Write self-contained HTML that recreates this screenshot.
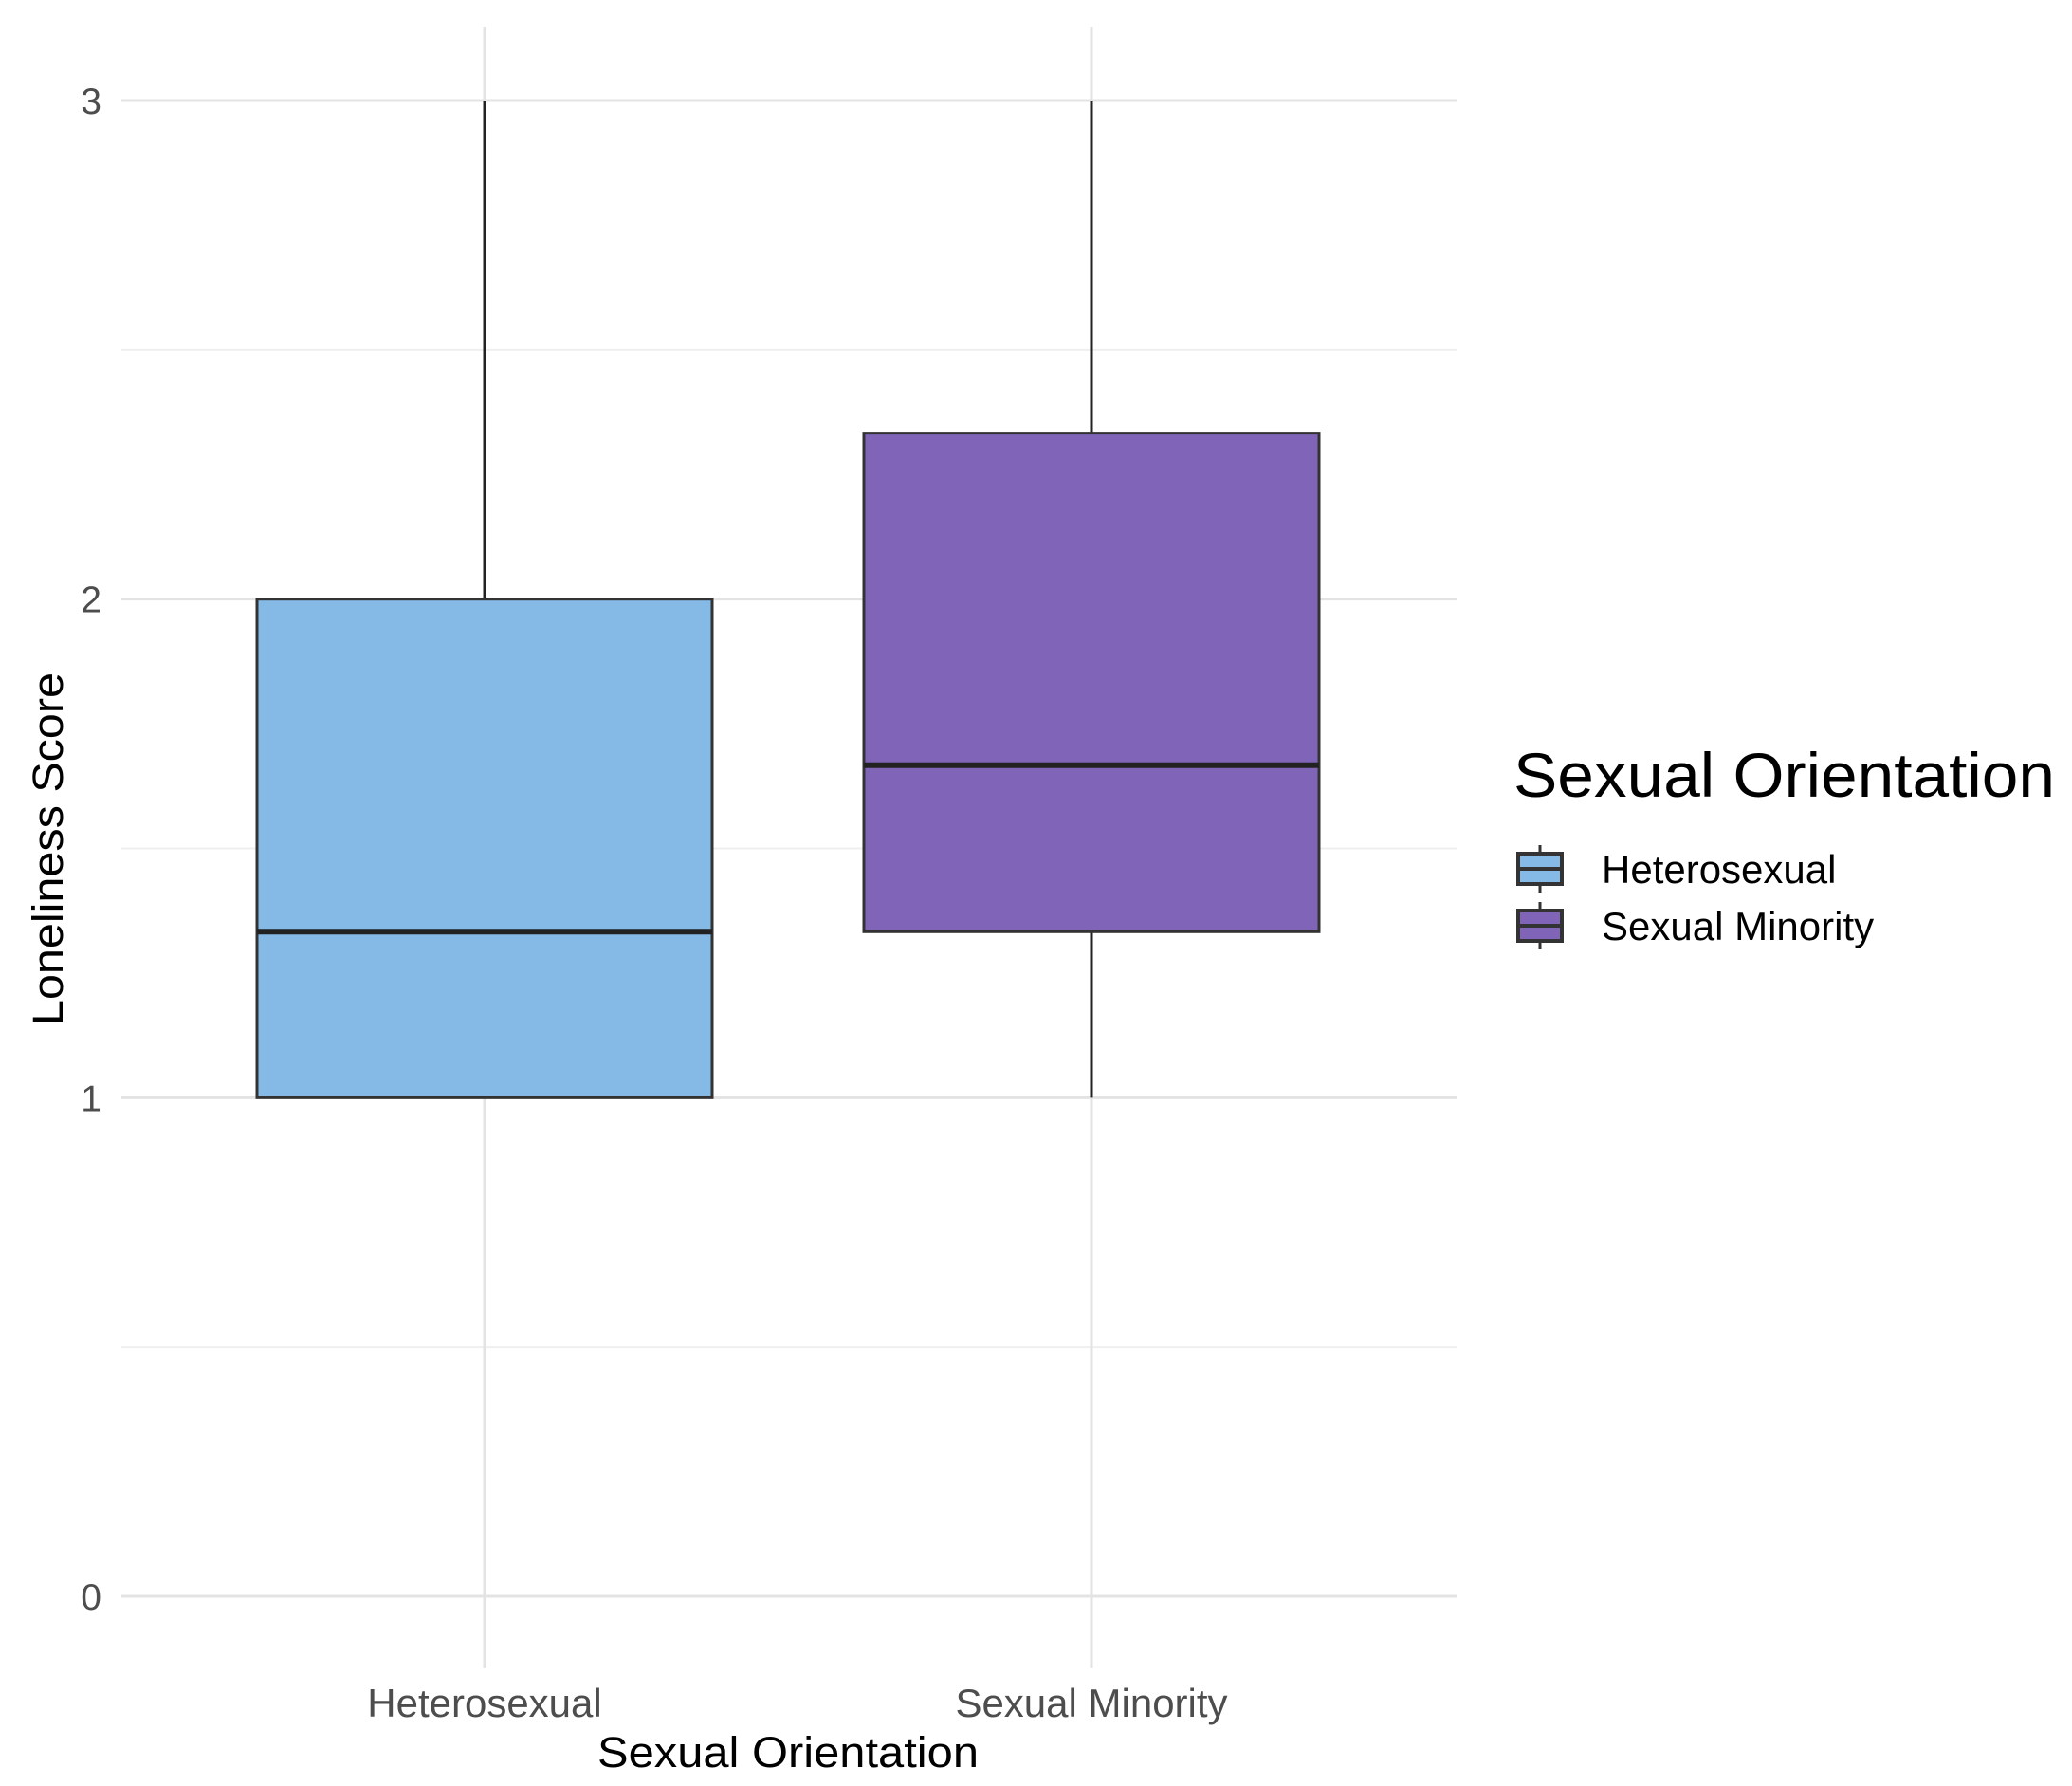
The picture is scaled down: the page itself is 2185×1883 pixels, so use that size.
<!DOCTYPE html>
<html><head><meta charset="utf-8"><style>html,body{margin:0;padding:0;background:#fff}svg{display:block}text{font-family:"Liberation Sans",Arial,sans-serif}</style></head>
<body>
<svg id="chart" width="2185" height="1883" viewBox="0 0 2185 1883" xmlns="http://www.w3.org/2000/svg">
<g id="grid"></g>
<g id="boxes"></g>
<g id="axes"></g>
<text x="831" y="1863" font-size="45" text-anchor="middle" fill="#000" textLength="402" lengthAdjust="spacingAndGlyphs">Sexual Orientation</text>
<text transform="translate(66,895) rotate(-90)" font-size="45" text-anchor="middle" fill="#000" textLength="372" lengthAdjust="spacingAndGlyphs">Loneliness Score</text>
<g>
<text x="1596" y="840" font-size="66" fill="#000" textLength="571" lengthAdjust="spacingAndGlyphs">Sexual Orientation</text>
<g id="legend-entries"></g>
</g>
</svg>
<script>
const categories = ["Heterosexual", "Sexual Minority"];
const mins = [1, 1];
const q1s = [1, 1.333];
const medians = [1.333, 1.667];
const q3s = [2, 2.333];
const maxs = [3, 3];
const colors = ["#85B9E6", "#7F64B8"];
const yTicks = [0, 1, 2, 3];
const yMinor = [0.5, 1.5, 2.5];

const NS = "http://www.w3.org/2000/svg";
const X0 = 128, X1 = 1536, Ytop = 106, Ybot = 1683;
function y(v){ return Ybot - (v - 0) / (3 - 0) * (Ybot - Ytop); }
const catStep = 640, catStart = 511;
function x(i){ return catStart + i * catStep; }
const boxHalf = 240;
function mk(tag, attrs, parent){ const e=document.createElementNS(NS,tag); for(const k in attrs) e.setAttribute(k,attrs[k]); parent.appendChild(e); return e; }

const grid = document.getElementById('grid');
yMinor.forEach(v=>{
  const l = mk('line',{x1:X0,x2:X1,y1:y(v),y2:y(v),stroke:'#EFEFEF','stroke-width':2},grid);
  
  
});
yTicks.forEach(v=>{
  const l = mk('line',{x1:X0,x2:X1,y1:y(v),y2:y(v),stroke:'#E3E3E3','stroke-width':3},grid);
  
  
});
categories.forEach((c,i)=>{
  const l = mk('line',{x1:x(i),x2:x(i),y1:28,y2:1759,stroke:'#E3E3E3','stroke-width':3},grid);
  
  
});

const axes = document.getElementById('axes');
yTicks.forEach(v=>{
  const t = mk('text',{x:107,y:y(v)+14,'font-size':39,'text-anchor':'end',fill:'#4D4D4D'},axes);
  t.textContent = v;
  
  
});
categories.forEach((c,i)=>{
  const t = mk('text',{x:x(i),y:1810,'font-size':42,'text-anchor':'middle',fill:'#4D4D4D'},axes);
  t.textContent = c;
  
  
});

const boxes = document.getElementById('boxes');
categories.forEach((c,i)=>{
  const g = mk('g',{},boxes);
  
  
  const w1 = mk('line',{x1:x(i),x2:x(i),y1:y(q3s[i]),y2:y(maxs[i]),stroke:'#222','stroke-width':3},g);
  
  
  const w2 = mk('line',{x1:x(i),x2:x(i),y1:y(q1s[i]),y2:y(mins[i]),stroke:'#222','stroke-width':3},g);
  
  
  const r = mk('rect',{x:x(i)-boxHalf,y:y(q3s[i]),width:boxHalf*2,height:y(q1s[i])-y(q3s[i]),fill:colors[i],stroke:'#333','stroke-width':3},g);
  
  
  const m = mk('line',{x1:x(i)-boxHalf,x2:x(i)+boxHalf,y1:y(medians[i]),y2:y(medians[i]),stroke:'#222','stroke-width':6},g);
  
  
});

const le = document.getElementById('legend-entries');
categories.forEach((c,i)=>{
  const cy = 916 + i*60;
  const g = mk('g',{},le);
  
  
  mk('line',{x1:1624,x2:1624,y1:cy-25,y2:cy+25,stroke:'#333','stroke-width':3},g);
  mk('rect',{x:1601,y:cy-16,width:46,height:32,fill:colors[i],stroke:'#333','stroke-width':4},g);
  mk('line',{x1:1601,x2:1647,y1:cy,y2:cy,stroke:'#333','stroke-width':4},g);
  const t = mk('text',{x:1689,y:cy+15,'font-size':42,fill:'#000'},g);
  t.textContent = c;
  
  
});
</script>
</body></html>
